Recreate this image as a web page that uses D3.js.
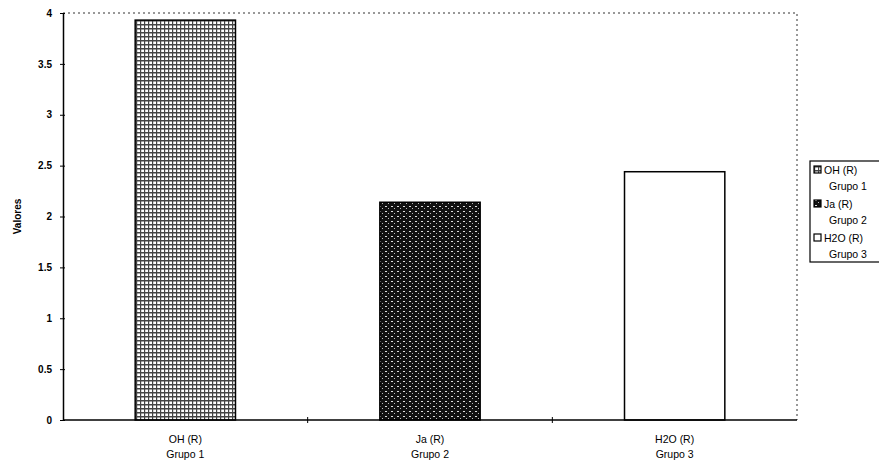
<!DOCTYPE html>
<html><head><meta charset="utf-8">
<script src="https://cdn.jsdelivr.net/npm/d3@7"></script>
<style>body{margin:0;background:#fff}svg{display:block;font-family:"Liberation Sans",Arial,sans-serif}</style>
</head><body><div id="c"></div>
<script>
const categories = [["OH (R)","Grupo 1"],["Ja (R)","Grupo 2"],["H2O (R)","Grupo 3"]];
const values = [3.93, 2.14, 2.44];
const yTicks = [0,0.5,1,1.5,2,2.5,3,3.5,4];
const yTitle = "Valores";

const W=879,H=466, m={l:63,r:82,t:13,b:46};
const svg=d3.select("#c").append("svg").attr("width",W).attr("height",H);
const defs=svg.append("defs");
// pattern 1: grid gray
const p1=defs.append("pattern").attr("id","p1").attr("width",4).attr("height",4).attr("patternUnits","userSpaceOnUse");
p1.append("rect").attr("width",4).attr("height",4).attr("fill","#fff");
p1.append("rect").attr("width",4).attr("height",1.5).attr("fill","#444");
p1.append("rect").attr("width",1.2).attr("height",4).attr("fill","#444");
// pattern 2: dark noisy
const p2=defs.append("pattern").attr("id","p2").attr("width",6).attr("height",5).attr("patternUnits","userSpaceOnUse");
p2.append("rect").attr("width",6).attr("height",5).attr("fill","#111");
p2.append("rect").attr("x",1).attr("y",1).attr("width",2).attr("height",1).attr("fill","#ddd");
p2.append("rect").attr("x",4).attr("y",3).attr("width",1).attr("height",1).attr("fill","#bbb");
const fills=["url(#p1)","url(#p2)","#fff"];

const x=d3.scaleBand().domain(categories.map(d=>d[0])).range([m.l,W-m.r]).paddingInner(0.59).paddingOuter(0.295);
const y=d3.scaleLinear().domain([0,4]).range([H-m.b,m.t]);
const X0=m.l,X1=W-m.r,Y0=H-m.b,Y1=m.t;

// dotted top/right border
svg.append("path").attr("d",`M${X0},${Y1}H${X1}V${Y0}`).attr("fill","none").attr("stroke","#333").attr("stroke-width",1).attr("stroke-dasharray","2,3");

// bars
svg.selectAll(".bar").data(values).join("rect")
 .attr("x",(d,i)=>x(categories[i][0])).attr("width",x.bandwidth())
 .attr("y",d=>y(d)).attr("height",d=>Y0-y(d))
 .attr("fill",(d,i)=>fills[i]).attr("stroke","#000").attr("stroke-width",1.5);

// y axis
const ya=svg.append("g").attr("transform",`translate(${X0},0)`)
 .call(d3.axisLeft(y).tickValues(yTicks).tickSize(3).tickSizeOuter(0).tickFormat(d3.format("")));
ya.select(".domain").attr("stroke","#000").attr("stroke-width",1.5);
ya.selectAll(".tick line").attr("x2",2).attr("x1",-3);
ya.selectAll("text").attr("x",-11).attr("font-size",10).attr("font-weight","bold").attr("font-family","Liberation Sans, Arial, sans-serif");

// x axis
svg.append("line").attr("x1",X0).attr("x2",X1).attr("y1",Y0).attr("y2",Y0).attr("stroke","#000").attr("stroke-width",1.5);
const step=x.step();
const bounds=categories.slice(0,-1).map(d=>x(d[0])+x.bandwidth()+step*x.paddingInner()/2);
svg.selectAll(".xt").data(bounds).join("line").attr("x1",d=>d).attr("x2",d=>d).attr("y1",Y0-3).attr("y2",Y0+3).attr("stroke","#000");
const xl=svg.selectAll(".xl").data(categories).join("text")
 .attr("text-anchor","middle").attr("font-size",10.5)
 .attr("transform",d=>`translate(${x(d[0])+x.bandwidth()/2},${Y0+23})`);
xl.append("tspan").attr("x",0).attr("y",0).text(d=>d[0]);
xl.append("tspan").attr("x",0).attr("y",15).text(d=>d[1]);

// y title
svg.append("text").attr("transform",`translate(21,${(Y0+Y1)/2}) rotate(-90)`).attr("text-anchor","middle")
 .attr("font-size",10).attr("font-weight","bold").text(yTitle);

// legend
const lg=svg.append("g").attr("transform","translate(810,161)");
lg.append("rect").attr("width",75).attr("height",101).attr("fill","#fff").attr("stroke","#000").attr("stroke-width",1.2);
categories.forEach((c,i)=>{
 const g=lg.append("g").attr("transform",`translate(4,${9+i*34})`);
 g.append("rect").attr("x",0).attr("y",-4).attr("width",7).attr("height",7).attr("fill",fills[i]).attr("stroke","#000").attr("stroke-width",1.2);
 g.append("text").attr("x",10).attr("y",0).attr("dy","0.35em").attr("font-size",10.5).text(c[0]);
 g.append("text").attr("x",15).attr("y",16).attr("dy","0.35em").attr("font-size",10.5).text(c[1]);
});
</script></body></html>
